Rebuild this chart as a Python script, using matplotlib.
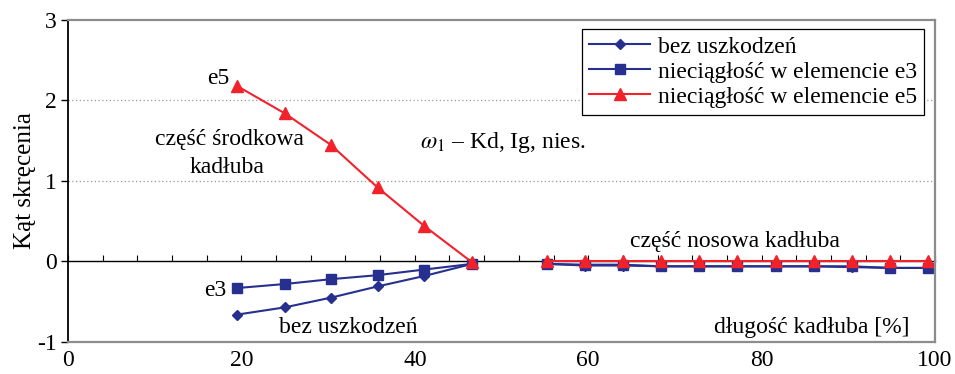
import matplotlib
matplotlib.use("Agg")
import matplotlib.pyplot as plt
from matplotlib.ticker import MultipleLocator

plt.rcParams['font.family'] = ['Liberation Serif', 'DejaVu Serif']
plt.rcParams['mathtext.fontset'] = 'stix'

# positions along the hull [%]
x_mid = [19.5, 25.0, 30.3, 35.7, 41.1, 46.6]
x_nose = [55.2, 59.6, 64.0, 68.4, 72.8, 77.2, 81.6, 86.0, 90.4, 94.8, 99.2]

# twist angle, midship part
bez_mid = [-0.66, -0.57, -0.45, -0.31, -0.18, -0.03]
e3_mid = [-0.33, -0.28, -0.22, -0.17, -0.10, -0.03]
e5_mid = [2.18, 1.84, 1.45, 0.92, 0.44, -0.01]

# twist angle, bow part
bez_nose = [-0.03, -0.05, -0.05, -0.06, -0.06, -0.06, -0.06, -0.06, -0.07, -0.08, -0.08]
e3_nose = [-0.03, -0.04, -0.04, -0.06, -0.06, -0.06, -0.06, -0.06, -0.06, -0.08, -0.08]
e5_nose = [0.0, 0.0, 0.0, 0.0, 0.0, 0.0, 0.0, 0.0, 0.0, 0.0, 0.0]

y_ticks = [-1, 0, 1, 2, 3]
y_ticklabels = ['-1', '0', '1', '2', '3']
labels = ['bez uszkodzeń', 'nieciągłość w elemencie e3', 'nieciągłość w elemencie e5']
blue = '#27308f'
red = '#f2222b'
fs = 17

fig = plt.figure(figsize=(9.55, 3.74), dpi=100)
ax = fig.add_axes([0.0712, 0.0856, 0.9079, 0.861])

styles = [
    (bez_mid, bez_nose, blue, 'D', 5.5),
    (e3_mid, e3_nose, blue, 's', 6.5),
    (e5_mid, e5_nose, red, '^', 8),
]
for (ym, yn, col, mk, ms), lab in zip(styles, labels):
    ax.plot(x_mid, ym, color=col, marker=mk, ms=ms, lw=1.5, label=lab)
    ax.plot(x_nose, yn, color=col, marker=mk, ms=ms, lw=1.5)

ax.set_xlim(0, 100)
ax.set_ylim(-1, 3)
ax.xaxis.set_major_locator(MultipleLocator(20))
ax.set_yticks(y_ticks)
ax.set_yticklabels(y_ticklabels)
ax.tick_params(axis='x', length=0, labelsize=fs, pad=6)
ax.tick_params(axis='y', length=5, width=1, direction='out', labelsize=fs, pad=3)

for y in (1, 2):
    ax.axhline(y, color='#999999', lw=0.9, ls=(0, (1, 2)), zorder=0)

for side in ('top', 'bottom', 'right'):
    ax.spines[side].set_color('#8c8c8c')
    ax.spines[side].set_linewidth(1.6)
ax.spines['left'].set_linewidth(1.3)

# zero line with minor ticks
zero = ax.secondary_xaxis(0.25)
zero.spines['bottom'].set_linewidth(1.0)
zero.xaxis.set_major_locator(MultipleLocator(4))
zero.tick_params(axis='x', direction='in', length=4, width=0.8, labelbottom=False)

ax.set_ylabel('Kąt skręcenia', fontsize=fs + 1, labelpad=1)

ax.text(18.6, 2.27, 'e5', fontsize=fs, ha='right', va='center')
ax.text(18.6, 1.52, 'część środkowa', fontsize=fs, ha='center', va='center')
ax.text(18.4, 1.17, 'kadłuba', fontsize=fs, ha='center', va='center')
ax.text(40.6, 1.48, r'$\omega_{1}$ – Kd, Ig, nies.', fontsize=fs, ha='left', va='center')
ax.text(76.9, 0.25, 'część nosowa kadłuba', fontsize=fs, ha='center', va='center')
ax.text(18.3, -0.36, 'e3', fontsize=fs, ha='right', va='center')
ax.text(32.3, -0.82, 'bez uszkodzeń', fontsize=fs, ha='center', va='center')
ax.text(97.1, -0.82, 'długość kadłuba [%]', fontsize=fs, ha='right', va='center')

leg = ax.legend(loc='upper right', bbox_to_anchor=(0.987, 0.972), borderaxespad=0,
                fontsize=fs, fancybox=False, framealpha=1, edgecolor='black',
                handlelength=2.6, handletextpad=0.3, labelspacing=0.15,
                borderpad=0.3)
leg.get_frame().set_linewidth(0.9)

fig.savefig('out.png', dpi=100)
